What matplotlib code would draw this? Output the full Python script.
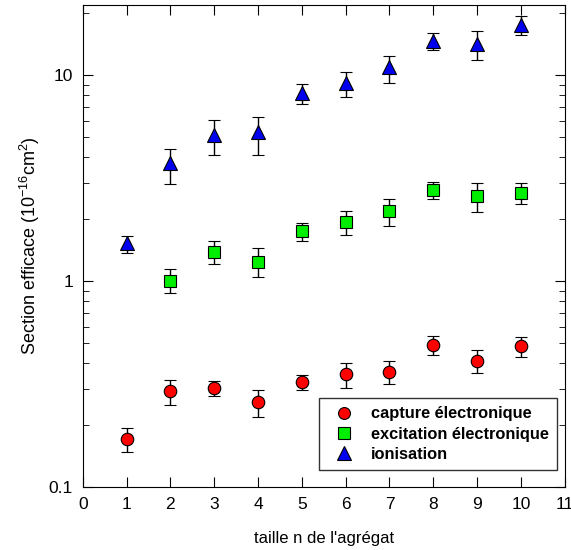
import matplotlib
matplotlib.use('Agg')
import matplotlib.pyplot as plt
import numpy as np

plt.rcParams['font.family'] = ['Liberation Sans', 'DejaVu Sans']
plt.rcParams['mathtext.default'] = 'regular'

# capture electronique
n_cap = [1, 2, 3, 4, 5, 6, 7, 8, 9, 10]
cap = [0.171, 0.292, 0.303, 0.258, 0.324, 0.353, 0.363, 0.492, 0.411, 0.484]
cap_lo = [0.148, 0.251, 0.276, 0.220, 0.295, 0.304, 0.318, 0.440, 0.357, 0.430]
cap_hi = [0.193, 0.332, 0.329, 0.297, 0.350, 0.400, 0.407, 0.542, 0.461, 0.538]

# excitation electronique
n_exc = [2, 3, 4, 5, 6, 7, 8, 9, 10]
exc = [1.00, 1.38, 1.24, 1.75, 1.94, 2.19, 2.77, 2.59, 2.68]
exc_lo = [0.875, 1.21, 1.05, 1.57, 1.67, 1.85, 2.51, 2.17, 2.37]
exc_hi = [1.14, 1.57, 1.45, 1.91, 2.19, 2.51, 3.03, 3.00, 3.00]

# ionisation
n_ion = [1, 2, 3, 4, 5, 6, 7, 8, 9, 10]
ion = [1.53, 3.75, 5.13, 5.31, 8.22, 9.19, 11.0, 14.7, 14.2, 17.6]
ion_lo = [1.37, 2.97, 4.10, 4.10, 7.26, 7.86, 9.19, 13.2, 11.8, 15.6]
ion_hi = [1.65, 4.39, 6.07, 6.28, 9.09, 10.4, 12.4, 16.1, 16.3, 19.3]

fig = plt.figure(figsize=(5.71, 5.5), dpi=100)
ax = fig.add_axes([0.145, 0.1145, 0.844, 0.877])

def err(v, lo, hi):
    v = np.array(v); return [v - np.array(lo), np.array(hi) - v]

ax.errorbar(n_cap, cap, yerr=err(cap, cap_lo, cap_hi), fmt='o', color='red', mec='black', mew=0.8,
            ms=9, ecolor='black', elinewidth=1, capsize=4, capthick=1, label='capture électronique')
ax.errorbar(n_exc, exc, yerr=err(exc, exc_lo, exc_hi), fmt='s', color='#00ee00', mec='black', mew=0.8,
            ms=8.5, ecolor='black', elinewidth=1, capsize=4, capthick=1, label='excitation électronique')
ax.errorbar(n_ion, ion, yerr=err(ion, ion_lo, ion_hi), fmt='^', color='#0000ee', mec='black', mew=0.8,
            ms=10, ecolor='black', elinewidth=1, capsize=4, capthick=1, label='ionisation')

ax.set_yscale('log')
ax.set_ylim(0.1, 22)
ax.set_xlim(0, 11)
ax.set_xticks(range(0, 12))
ax.set_yticks([0.1, 1, 10])
ax.set_yticklabels(['0.1', '1', '10'])
ax.tick_params(which='both', direction='in', top=True, right=True, labelsize=12.5)
ax.tick_params(which='major', length=7, pad=7)
ax.tick_params(which='minor', length=4)
ax.yaxis.set_minor_formatter(matplotlib.ticker.NullFormatter())

ax.set_xlabel("taille n de l'agrégat", fontsize=12, labelpad=14)
ax.set_ylabel('Section efficace (10$^{-16}$cm$^{2}$)', fontsize=13, labelpad=5)

handles, labels = ax.get_legend_handles_labels()
handles = [h[0] for h in handles]
leg = ax.legend(handles, labels, loc='lower right', bbox_to_anchor=(0.9845, 0.035), frameon=True,
                fancybox=False, edgecolor='black', prop={'weight': 'bold', 'size': 11.8},
                handletextpad=0.6, borderpad=0.5, labelspacing=0.32, markerscale=0.95,
                borderaxespad=0, handlelength=2.1)
leg.get_frame().set_linewidth(1)

fig.savefig('out.png', dpi=100)
